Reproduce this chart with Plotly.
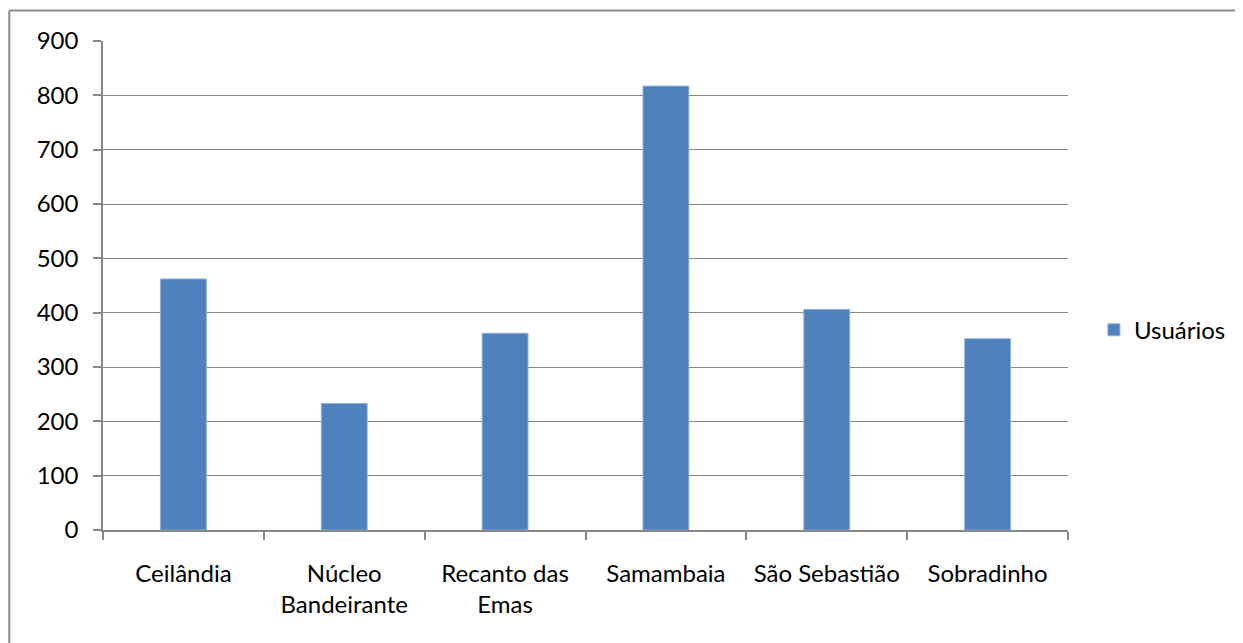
import plotly.graph_objects as go

categories = ["Ceilândia", "Núcleo<br>Bandeirante", "Recanto das<br>Emas",
              "Samambaia", "São Sebastião", "Sobradinho"]
usuarios = [462, 233, 362, 817, 406, 352]
y_ticks = [0, 100, 200, 300, 400, 500, 600, 700, 800, 900]
series_name = "Usuários"

FONT = "Lato"
GRAY = "#878787"
OFF = 8  # page body margin offset

fig = go.Figure()
fig.add_trace(go.Bar(
    x=categories, y=usuarios, name=series_name,
    marker=dict(color="#4F81BD", line=dict(color="#8FB0DA", width=1)),
))

W, H = 1243 - OFF, 643 - OFF
L, R, T, B = 103 - OFF, 1071 - OFF, 40.5 - OFF, 530 - OFF
pw, ph = R - L, B - T

fig.update_layout(
    width=W, height=H,
    margin=dict(l=L, r=W - R, t=T, b=H - B, pad=0),
    paper_bgcolor="white", plot_bgcolor="white",
    font=dict(family=FONT, size=24, color="#000000"),
    bargap=0.715,
    showlegend=True,
    legend=dict(x=(1097 - OFF - L) / pw, y=(B - (330 - OFF)) / ph,
                xanchor="left", yanchor="middle",
                font=dict(family=FONT, size=24, color="#000000"),
                bgcolor="rgba(0,0,0,0)", itemwidth=30),
    xaxis=dict(
        type="category", showgrid=False, showline=True, linecolor=GRAY, linewidth=1.5,
        ticks="outside", tickson="boundaries", ticklen=8, tickcolor=GRAY, tickwidth=1.5,
        ticklabelstandoff=21, tickfont=dict(family=FONT, size=24, color="#000000"),
    ),
    yaxis=dict(
        range=[0, 900], tickvals=y_ticks, showgrid=True, gridcolor=GRAY, gridwidth=1,
        showline=True, linecolor=GRAY, linewidth=1.5, zeroline=False,
        ticks="outside", ticklen=8, tickcolor=GRAY, tickwidth=1.5,
        ticklabelstandoff=10, tickfont=dict(family=FONT, size=24, color="#000000"),
    ),
)

# outer chart frame (only top and left edges visible; it runs off the image)
fx0 = (9 - OFF - L) / pw
fy1 = (B - (10 - OFF)) / ph
fig.add_shape(type="line", xref="paper", yref="paper",
              x0=fx0, x1=(1300 - OFF - L) / pw, y0=fy1, y1=fy1,
              line=dict(color="#8C8C8C", width=2), layer="below")
fig.add_shape(type="line", xref="paper", yref="paper",
              x0=fx0, x1=fx0, y0=fy1, y1=(B - (700 - OFF)) / ph,
              line=dict(color="#8C8C8C", width=2), layer="below")

fig.write_html("out.html")
